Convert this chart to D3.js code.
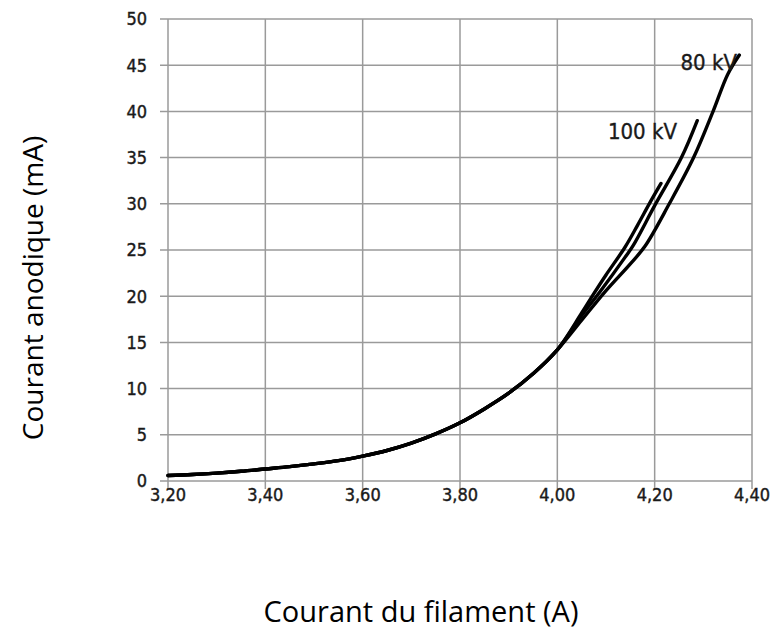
<!DOCTYPE html>
<html>
<head>
<meta charset="utf-8">
<script src="https://cdn.jsdelivr.net/npm/d3@7"></script>
<style>
  body { margin: 0; background: #fff; }
  svg { display: block; }
</style>
</head>
<body>
<div class="canvas"></div>
<script>
// values
const xTicks = [3.2, 3.4, 3.6, 3.8, 4.0, 4.2, 4.4]
const yTicks = [0, 5, 10, 15, 20, 25, 30, 35, 40, 45, 50]

// common lower part of the three curves
const common = [
    [3.20, 0.6], [3.25, 0.7], [3.30, 0.85], [3.35, 1.05], [3.40, 1.3],
    [3.45, 1.55], [3.50, 1.85], [3.55, 2.2], [3.60, 2.7], [3.65, 3.3],
    [3.70, 4.1], [3.75, 5.1], [3.80, 6.3], [3.85, 7.8], [3.90, 9.5],
    [3.95, 11.6], [4.00, 14.2]
]
const seriesA = [[4.05, 18.2], [4.074, 20.2], [4.10, 22.3], [4.139, 25.3], [4.165, 27.7], [4.19, 30.1], [4.213, 32.2]]
const series100 = [[4.05, 17.9], [4.088, 20.5], [4.139, 24.2], [4.156, 25.5], [4.20, 29.8], [4.255, 35], [4.2875, 39.0]]
const series80 = [[4.05, 17.4], [4.10, 20.6], [4.15, 23.5], [4.18, 25.4], [4.23, 30.0], [4.28, 35.0], [4.32, 40.0], [4.35, 44.0], [4.374, 46.1]]

const curves = [
    { name: "", pts: common.concat(seriesA) },
    { name: "100 kV", pts: common.concat(series100) },
    { name: "80 kV", pts: common.concat(series80) }
]

const width = 782, height = 633
const margin = { left: 168, right: 30, top: 19, bottom: 152 }

const svg = d3.select(".canvas").append("svg")
    .attr("width", width)
    .attr("height", height)

const x = d3.scaleLinear().domain([3.2, 4.4]).range([margin.left, width - margin.right])
const y = d3.scaleLinear().domain([0, 50]).range([height - margin.bottom, margin.top])

const gridColor = "#9a9a9a"
const fmt = d => d.toFixed(2).replace(".", ",")
const tickFont = "DejaVu Sans Condensed"

// grid
svg.append("g").selectAll("line")
    .data(yTicks)
    .enter().append("line")
    .attr("x1", margin.left - 8)
    .attr("x2", x(4.4))
    .attr("y1", d => y(d))
    .attr("y2", d => y(d))
    .attr("stroke", gridColor)
    .attr("stroke-width", 1.5)

svg.append("g").selectAll("line")
    .data(xTicks)
    .enter().append("line")
    .attr("x1", d => x(d))
    .attr("x2", d => x(d))
    .attr("y1", y(50))
    .attr("y2", y(0) + 8)
    .attr("stroke", gridColor)
    .attr("stroke-width", 1.5)

// tick labels
svg.append("g").selectAll("text")
    .data(yTicks)
    .enter().append("text")
    .attr("x", margin.left - 21)
    .attr("y", d => y(d))
    .attr("dy", "0.36em")
    .attr("text-anchor", "end")
    .attr("font-family", tickFont)
    .attr("font-size", 18)
    .attr("fill", "#1a1a1a")
    .attr("stroke", "#1a1a1a")
    .attr("stroke-width", 0.4)
    .text(d => d)

svg.append("g").selectAll("text")
    .data(xTicks)
    .enter().append("text")
    .attr("x", d => x(d))
    .attr("y", y(0) + 14)
    .attr("dy", "0.36em")
    .attr("text-anchor", "middle")
    .attr("font-family", tickFont)
    .attr("font-size", 18)
    .attr("fill", "#1a1a1a")
    .attr("stroke", "#1a1a1a")
    .attr("stroke-width", 0.4)
    .text(d => fmt(d))

// curves
const line = d3.line()
    .x(d => x(d[0]))
    .y(d => y(d[1]))
    .curve(d3.curveCatmullRom.alpha(0.5))

svg.append("g").selectAll("path")
    .data(curves)
    .enter().append("path")
    .attr("d", d => line(d.pts))
    .attr("fill", "none")
    .attr("stroke", "#000")
    .attr("stroke-width", 3.4)
    .attr("stroke-linecap", "round")

// series labels
svg.append("text")
    .attr("x", 737)
    .attr("y", 62)
    .attr("dy", "0.36em")
    .attr("text-anchor", "end")
    .attr("font-family", tickFont)
    .attr("font-size", 22)
    .attr("fill", "#1a1a1a")
    .attr("stroke", "#1a1a1a")
    .attr("stroke-width", 0.35)
    .text("80 kV")

svg.append("text")
    .attr("x", 677)
    .attr("y", 131)
    .attr("dy", "0.36em")
    .attr("text-anchor", "end")
    .attr("font-family", tickFont)
    .attr("font-size", 22)
    .attr("fill", "#1a1a1a")
    .attr("stroke", "#1a1a1a")
    .attr("stroke-width", 0.35)
    .text("100 kV")

// axis titles
svg.append("text")
    .attr("x", 421)
    .attr("y", 612)
    .attr("dy", "0.36em")
    .attr("text-anchor", "middle")
    .attr("font-family", "Open Sans")
    .attr("font-size", 29)
    .attr("fill", "#000")
    .text("Courant du filament (A)")

svg.append("text")
    .attr("transform", "translate(33,288) rotate(-90)")
    .attr("dy", "0.36em")
    .attr("text-anchor", "middle")
    .attr("font-family", "Open Sans")
    .attr("font-size", 28)
    .attr("fill", "#000")
    .text("Courant anodique (mA)")
</script>
</body>
</html>
